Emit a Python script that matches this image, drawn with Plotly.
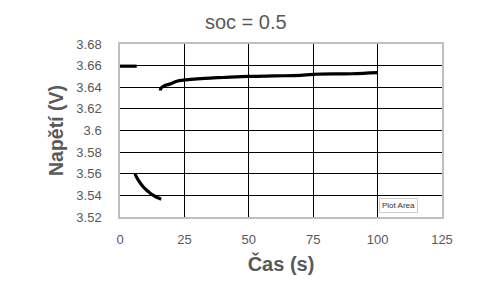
import plotly.graph_objects as go

# Data
seg1_x = [0, 6.5]
seg1_y = [3.6595, 3.6595]

seg2_x = [5.8, 6.2, 7, 8, 9, 10, 11, 12, 13, 14, 15, 16]
seg2_y = [3.5605, 3.558, 3.5545, 3.551, 3.548, 3.5455, 3.5435, 3.5415, 3.540, 3.5385, 3.5375, 3.5365]

seg3_x = [15.6, 16, 17, 18, 20, 22, 25, 30, 35, 40, 50, 60, 70, 75, 90, 100]
seg3_y = [3.637, 3.6395, 3.641, 3.642, 3.6435, 3.6455, 3.6467, 3.6477, 3.6485, 3.649, 3.650, 3.6505, 3.651, 3.652, 3.6525, 3.6535]

y_ticks = [3.52, 3.54, 3.56, 3.58, 3.6, 3.62, 3.64, 3.66, 3.68]
y_labels = ["3.52", "3.54", "3.56", "3.58", "3.6", "3.62", "3.64", "3.66", "3.68"]
x_ticks = [0, 25, 50, 75, 100, 125]

fig = go.Figure()
for xs, ys in [(seg1_x, seg1_y), (seg2_x, seg2_y), (seg3_x, seg3_y)]:
    fig.add_trace(go.Scatter(x=xs, y=ys, mode="lines",
                             line=dict(color="black", width=3.2, shape="spline"),
                             showlegend=False, hoverinfo="skip"))

font_col = "#595959"
fig.update_layout(
    width=480, height=284,
    margin=dict(l=120, r=38, t=44, b=62),
    paper_bgcolor="white", plot_bgcolor="white",
    title=dict(text="soc = 0.5", x=0.512, xanchor="center", y=0.922, yanchor="middle",
               font=dict(family="Liberation Sans, Arial", size=20, color=font_col)),
    font=dict(family="Liberation Sans, Arial", color=font_col),
)
fig.update_xaxes(range=[0, 125], tickvals=x_ticks, showgrid=True, gridcolor="black", gridwidth=1.2,
                 zeroline=False, showline=True, linecolor="#bfbfbf", linewidth=1.5, mirror=True,
                 ticks="", ticklabelstandoff=10, tickfont=dict(size=13, color=font_col),
                 title=dict(text="<b>Čas (s)</b>", font=dict(size=20, color=font_col), standoff=11))
fig.update_yaxes(range=[3.52, 3.68], tickvals=y_ticks, ticktext=y_labels, showgrid=True,
                 gridcolor="black", gridwidth=1.2, zeroline=False, showline=True,
                 linecolor="#bfbfbf", linewidth=1.5, mirror=True, ticks="",
                 ticklabelstandoff=14, tickfont=dict(size=13, color=font_col),
                 title=dict(text="<b>Napětí (V)</b>", font=dict(size=19.5, color=font_col), standoff=8))

fig.add_annotation(x=100.5, y=3.5235, xref="x", yref="y", xanchor="left", yanchor="bottom",
                   text="Plot Area", showarrow=False, font=dict(size=8, color="#333333"),
                   bgcolor="white", bordercolor="#cccccc", borderwidth=1, borderpad=2)

fig.write_html("out.html")
